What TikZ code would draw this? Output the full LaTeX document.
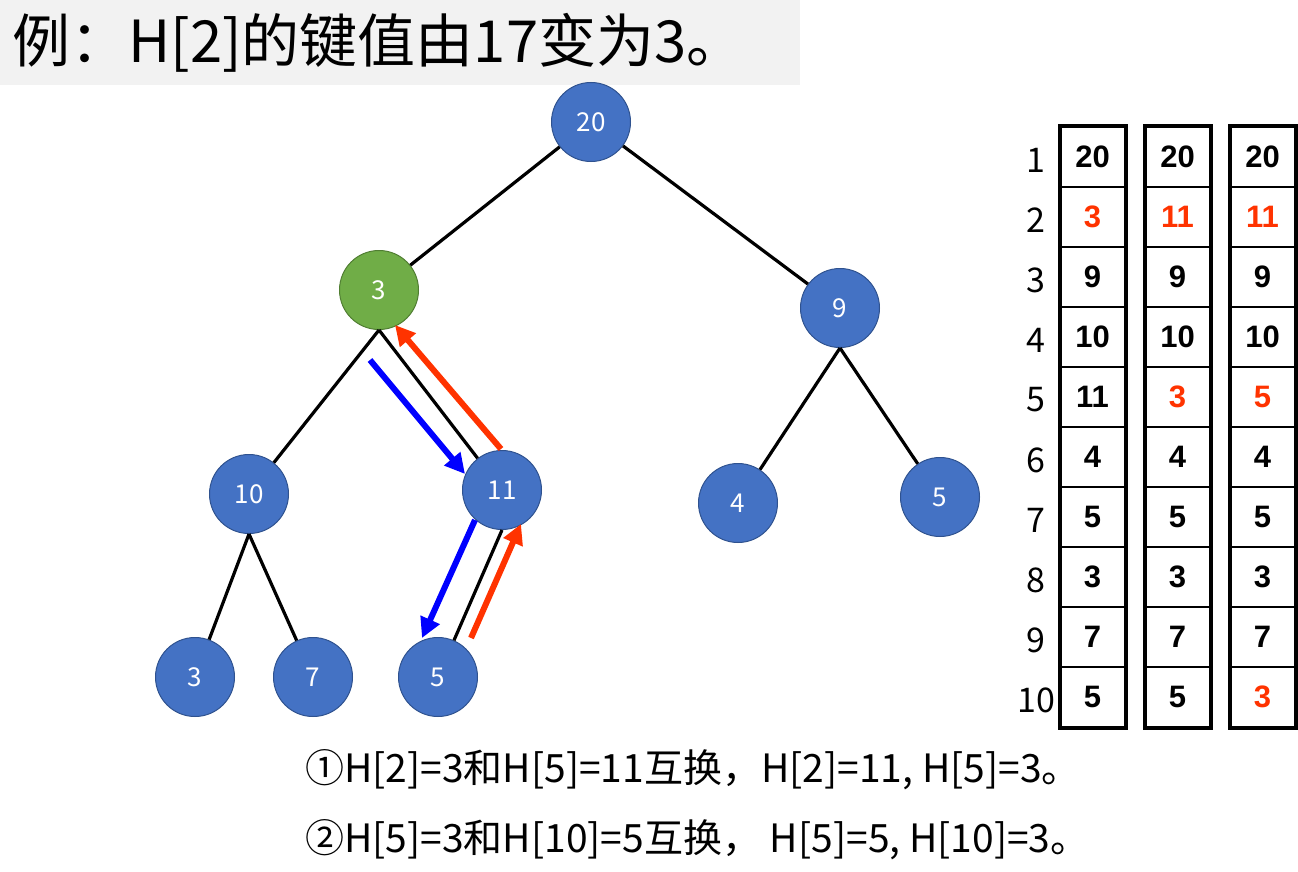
\documentclass[tikz,border=0pt]{standalone}
\usepackage{fontspec}
\setmainfont{Noto Sans CJK SC}
\newfontfamily\cellfont{Liberation Sans}
\usetikzlibrary{arrows.meta}
\definecolor{cNode} {RGB}{68, 114, 196}
\definecolor{cNodeD}{RGB}{47,  82, 143}
\definecolor{cCur}  {RGB}{112,173,  71}
\definecolor{cCurD} {RGB}{80, 126,  50}
\definecolor{cDown} {RGB}{0,    0, 255}
\definecolor{cUp}   {RGB}{255, 51,   0}
\definecolor{cTitle}{RGB}{242,242, 242}
\newcommand{\chg}[1]{\textcolor{cUp}{#1}}
\tikzset{
  V/.style    = {circle, fill=cNode, draw=cNodeD, line width=1pt,
                 minimum size=79pt, inner sep=0pt, text=white,
                 font=\fontsize{26}{26}\selectfont},
  Vcur/.style = {V, fill=cCur, draw=cCurD},
  E/.style    = {line width=3.2pt},
  down/.style = {-{Triangle[length=20pt,width=20pt]}, line width=6pt, cDown},
  up/.style   = {-{Triangle[length=20pt,width=20pt]}, line width=6pt, cUp},
  cell/.style = {draw, line width=2pt, minimum width=64pt, minimum height=60pt,
                 inner sep=0pt, font=\cellfont\bfseries\fontsize{31}{31}\selectfont},
  col/.style  = {line width=4pt},
  idx/.style  = {font=\fontsize{34}{34}\selectfont},
  say/.style  = {font=\fontsize{39}{39}\selectfont, anchor=west, inner sep=0pt},
  titleB/.style = {fill=cTitle, anchor=north west, minimum width=800pt,
                   minimum height=85pt, text width=776pt, inner xsep=12pt,
                   align=left, font=\fontsize{58}{58}\selectfont},
}

\begin{document}
\begin{tikzpicture}[x=1pt, y=-1pt]
\useasboundingbox (0,0) rectangle (1298,872);

%% ─── Title ───────────────────────────────────────────────────────
\node[titleB] (title) at (0,0) {例：H[2]的键值由17变为3。};

%% ─── heap nodes ──────────────────────────────────────────────────
\node[V]    (n20) at (591,122) {20};
\node[Vcur] (n3)  at (379,290) {3};
\node[V]    (n9)  at (840,308) {9};
\node[V]    (n10) at (249,494) {10};
\node[V]    (n11) at (502,490) {11};
\node[V]    (n4)  at (738,503) {4};
\node[V]    (n5r) at (940,497) {5};
\node[V]    (n3l) at (195,677) {3};
\node[V]    (n7)  at (313,677) {7};
\node[V]    (n5l) at (438,677) {5};

\draw[E] (n20) -- (n3);
\draw[E] (n20) -- (n9);
\draw[E] (n3.south) -- (n10);
\draw[E] (n3.south) -- (n11);
\draw[E] (n9.south) -- (n4);
\draw[E] (n9.south) -- (n5r);
\draw[E] (n10.south) -- (n3l);
\draw[E] (n10.south) -- (n7);
\draw[E] (n11.south) -- (n5l);

%% ─── sift-down steps ─────────────────────────────────────────────
\coordinate (d1s) at (370,360);
\coordinate (d1e) at (465,474);
\coordinate (u1s) at (501,449);
\coordinate (u1e) at (395,325);
\coordinate (d2s) at (475,520);
\coordinate (d2e) at (422,638);
\coordinate (u2s) at (471,638);
\coordinate (u2e) at (521,524);

\draw[down] (d1s) -- (d1e);
\draw[up]   (u1s) -- (u1e);
\draw[down] (d2s) -- (d2e);
\draw[up]   (u2s) -- (u2e);

%% ─── array H[1..10] ──────────────────────────────────────────────
\foreach \r in {1,...,10}
  \node[idx] (i\r) at (1036,{100+60*\r}) {\r};

\foreach \v [count=\r] in {20,\chg{3},9,10,11,4,5,3,7,5}
  \node[cell] (a\r) at (1092.5,{97+60*\r}) {\v};
\foreach \v [count=\r] in {20,\chg{11},9,10,\chg{3},4,5,3,7,5}
  \node[cell] (b\r) at (1177.5,{97+60*\r}) {\v};
\foreach \v [count=\r] in {20,\chg{11},9,10,\chg{5},4,5,3,7,\chg{3}}
  \node[cell] (c\r) at (1262.5,{97+60*\r}) {\v};

\draw[col] (a1.north west) rectangle (a10.south east);
\draw[col] (b1.north west) rectangle (b10.south east);
\draw[col] (c1.north west) rectangle (c10.south east);

%% ─── notes ───────────────────────────────────────────────────────
\node[say] (s1) at (305,770) {①H[2]=3和H[5]=11互换，H[2]=11, H[5]=3。};
\node[say] (s2) at (305,840) {②H[5]=3和H[10]=5互换， H[5]=5, H[10]=3。};

\end{tikzpicture}
\end{document}
